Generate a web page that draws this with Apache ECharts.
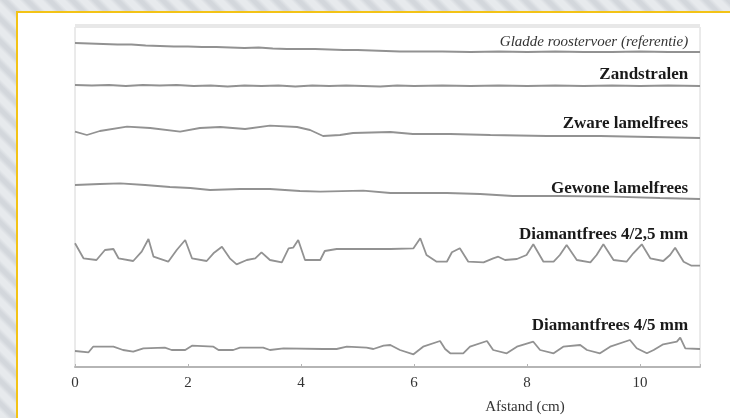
<!DOCTYPE html>
<html>
<head>
<meta charset="utf-8">
<script src="https://cdn.jsdelivr.net/npm/echarts@6/dist/echarts.min.js"></script>
<style>
  html, body { margin: 0; padding: 0; width: 730px; height: 418px; overflow: hidden; }
  body { background: repeating-linear-gradient(45deg, #e7eaed 0px, #e7eaed 5px, #d3d7dc 9px, #d3d7dc 12px, #e7eaed 16px); position: relative; }
  #panel { position: absolute; left: 16px; top: 11px; width: 760px; height: 460px; background: #fff; border: 2px solid #f3c316; box-sizing: border-box; }
  #chart { position: absolute; left: 0; top: 0; width: 730px; height: 418px; }
</style>
</head>
<body>
<div id="panel"></div>
<div id="chart"></div>
<script>
// Series names (as printed at the right end of each profile)
const seriesNames = [
  'Gladde roostervoer (referentie)',
  'Zandstralen',
  'Zware lamelfrees',
  'Gewone lamelfrees',
  'Diamantfrees 4/2,5 mm',
  'Diamantfrees 4/5 mm'
];
const xTicks = [0, 2, 4, 6, 8, 10];
const xTitle = 'Afstand (cm)';

// Profiles: [distance (cm), height (relative units, stacked offsets)]
const gladde = [
  [0, 324], [0.25, 323.5], [0.5, 323], [0.75, 322.5], [1.0, 322.5], [1.25, 321.5], [1.5, 321], [1.75, 320.5],
  [2.0, 320.5], [2.25, 320], [2.5, 320], [2.75, 319.5], [3.0, 319], [3.25, 319.5], [3.5, 318.5], [3.75, 318],
  [4.0, 318], [4.25, 318], [4.5, 317.5], [4.75, 317], [5.0, 317], [5.25, 316.5], [5.5, 316], [5.75, 315.5],
  [6.0, 315.5], [6.5, 315.5], [7.0, 315], [7.5, 315.5], [8.0, 315], [8.5, 315.5], [9.0, 315], [9.5, 315],
  [10.0, 315.5], [10.5, 315], [11.06, 315]
];
const zandstralen = [
  [0, 282], [0.3, 281.5], [0.6, 282], [0.9, 281], [1.2, 282], [1.5, 281.5], [1.8, 282], [2.1, 281],
  [2.4, 281.5], [2.7, 280.5], [3.0, 281.5], [3.3, 281], [3.6, 281.5], [3.9, 280.5], [4.2, 281.5], [4.5, 281],
  [4.8, 281.5], [5.1, 281], [5.4, 280.5], [5.7, 281.5], [6.0, 281], [6.5, 281.5], [7.0, 281], [7.5, 281.5],
  [8.0, 281], [8.5, 281.5], [9.0, 281], [9.5, 281.5], [10.0, 281], [10.5, 281.5], [11.06, 281]
];
const zwareLamel = [
  [0, 235.3], [0.21, 232], [0.44, 236], [0.92, 240.3], [1.33, 239], [1.86, 235.3], [2.21, 239], [2.57, 240],
  [3.01, 238], [3.45, 241.3], [3.93, 240], [4.16, 237], [4.39, 231], [4.69, 232], [4.92, 234], [5.58, 235],
  [5.98, 233], [6.64, 233], [7.35, 232], [8.35, 231], [9.29, 231], [10.18, 230], [11.06, 229]
];
const gewoneLamel = [
  [0, 182], [0.44, 183], [0.8, 183.7], [1.24, 182], [1.68, 180], [2.04, 179], [2.39, 177], [2.92, 178],
  [3.45, 178], [3.98, 176], [4.34, 175.3], [5.1, 176.3], [5.58, 174], [6.58, 174], [7.17, 173], [7.75, 171],
  [8.58, 171], [9.52, 170.3], [10.35, 169], [11.06, 168]
];
const diamant25 = [
  [0, 123.7], [0.15, 108.7], [0.38, 107], [0.53, 117], [0.68, 118], [0.77, 108.7], [1.03, 106], [1.18, 115.3],
  [1.30, 128], [1.39, 110.3], [1.65, 105.3], [1.80, 117], [1.95, 127], [2.07, 108.7], [2.33, 106], [2.45, 113.7],
  [2.60, 120.3], [2.74, 108.7], [2.86, 102.7], [3.04, 107], [3.19, 108.7], [3.30, 114.7], [3.45, 107], [3.66, 104.7],
  [3.78, 118.7], [3.86, 119.3], [3.95, 127], [4.07, 107], [4.34, 107], [4.42, 116], [4.63, 118], [5.58, 118],
  [5.99, 118.7], [6.11, 128.7], [6.22, 112], [6.40, 105.3], [6.58, 105.3], [6.67, 114.7], [6.81, 118.7], [6.96, 105.3],
  [7.23, 104.7], [7.40, 108.7], [7.49, 110.3], [7.61, 107], [7.82, 108], [7.99, 112], [8.11, 122.7], [8.29, 105.3],
  [8.47, 105.3], [8.58, 112], [8.70, 122], [8.88, 107], [9.12, 104.7], [9.23, 112], [9.35, 122.7], [9.53, 107],
  [9.76, 105.3], [9.88, 113.7], [10.03, 122.7], [10.18, 108.7], [10.41, 106], [10.53, 112], [10.62, 119.3], [10.77, 105.3],
  [10.91, 101.3], [11.06, 101.3]
];
const diamant5 = [
  [0, 16], [0.24, 14.7], [0.32, 20.3], [0.68, 20.3], [0.85, 17], [1.03, 15.3], [1.21, 18.7], [1.59, 19.3],
  [1.71, 17], [1.95, 17], [2.07, 21.3], [2.45, 20.3], [2.54, 17], [2.80, 17], [2.92, 19.3], [3.33, 19.3],
  [3.45, 17], [3.69, 18.7], [4.39, 18], [4.63, 18], [4.81, 20.3], [5.16, 19.3], [5.28, 18], [5.46, 21.3],
  [5.58, 22], [5.75, 17], [5.99, 12.7], [6.16, 20.3], [6.46, 26], [6.55, 18], [6.64, 13.7], [6.87, 13.7],
  [6.99, 20.3], [7.29, 26], [7.40, 17], [7.64, 13.7], [7.82, 20.3], [8.11, 25.3], [8.23, 17], [8.47, 13.7],
  [8.64, 20.3], [8.94, 22], [9.06, 17], [9.29, 13.7], [9.47, 20.3], [9.82, 27], [9.94, 18.7], [10.12, 13.7],
  [10.24, 17], [10.41, 22.7], [10.65, 25.3], [10.71, 29.3], [10.80, 18.7], [11.06, 18]
];
const profiles = [gladde, zandstralen, zwareLamel, gewoneLamel, diamant25, diamant5];
// label vertical centre (in the same relative height units)
const labelHeights = [325, 292, 243, 178, 132, 41];

const chart = echarts.init(document.getElementById('chart'), null, { renderer: 'canvas' });
const serif = '"Liberation Serif", "DejaVu Serif", serif';

const series = profiles.map((d, i) => ({
  name: seriesNames[i],
  type: 'line',
  data: d,
  showSymbol: false,
  smooth: false,
  lineStyle: { color: '#929292', width: 1.8 },
  silent: true,
  animation: false,
  markPoint: {
    symbol: 'rect', symbolSize: 0,
    data: [{ coord: [10.85, labelHeights[i]] }],
    label: {
      show: true, position: 'left', distance: 0,
      formatter: seriesNames[i],
      fontFamily: serif,
      fontSize: i === 0 ? 15 : 17,
      fontStyle: i === 0 ? 'italic' : 'normal',
      fontWeight: i === 0 ? 'normal' : 'bold',
      color: i === 0 ? '#333' : '#1a1a1a'
    }
  }
}));

chart.setOption({
  animation: false,
  grid: { left: 75, right: 30, top: 27, bottom: 51, show: true, borderColor: '#d6d6d6', borderWidth: 1, backgroundColor: 'transparent' },
  xAxis: {
    type: 'value', min: 0, max: 11.06, interval: 2,
    axisLine: { show: true, lineStyle: { color: '#b5b5b5', width: 2 } },
    axisTick: { show: true, inside: true, length: 3, lineStyle: { color: '#b5b5b5' } },
    splitLine: { show: false },
    axisLabel: {
      fontFamily: serif, fontSize: 15, color: '#333', margin: 9,
      formatter: v => (xTicks.indexOf(v) >= 0 ? String(v) : '')
    }
  },
  yAxis: {
    type: 'value', min: 0, max: 340, show: false
  },
  graphic: [
    { type: 'rect', shape: { x: 75, y: 24, width: 625, height: 4 }, style: { fill: '#e8e8e8' } },
    { type: 'text', x: 525, y: 407, style: { text: xTitle, font: '15px ' + serif, fill: '#333', textAlign: 'center', textVerticalAlign: 'middle' } }
  ],
  series: series
});
</script>
</body>
</html>
